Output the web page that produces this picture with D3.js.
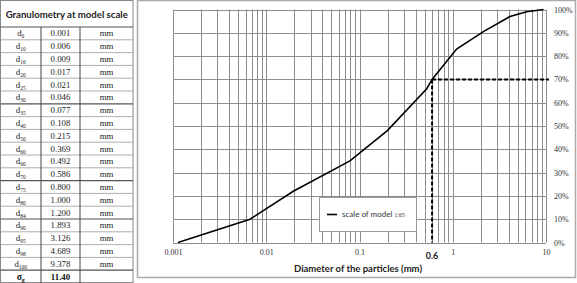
<!DOCTYPE html>
<html><head><meta charset="utf-8">
<script src="https://cdn.jsdelivr.net/npm/d3@7"></script>
<style>body{margin:0;background:#fff}svg{display:block}</style>
</head><body>
<svg id="c" width="577" height="283"></svg>
<script>
// ---- table data ----
const tableTitle = "Granulometry at model scale";
const tableLabels = ["0","10","16","20","25","30","35","40","50","60","60","70","75","80","84","90","95","98","100"];
const tableValues = ["0.001","0.006","0.009","0.017","0.021","0.046","0.077","0.108","0.215","0.369","0.492","0.586","0.800","1.000","1.200","1.893","3.126","4.689","9.378"];
const tableUnit = "mm";
const sigmaValue = "11.40";

// ---- curve data ----
const curveDiam = [0.00113, 0.0067, 0.0195, 0.079, 0.199, 0.526, 0.6, 1.10, 2.13, 4.11, 6.2, 9.4];
const curvePct  = [0, 10, 22, 35, 48, 66, 70, 83, 90.5, 97, 99, 100];
const xTicks = [0.001, 0.01, 0.1, 1, 10];
const xTickLabels = ["0.001","0.01","0.1","1","10"];
const yTicks = [0,10,20,30,40,50,60,70,80,90,100];
const markD = 0.6, markP = 70;
const legendLabel = "scale of model ";
const legendScale = "1:65";
const xTitle = "Diameter of the particles (mm)";

const svg = d3.select("#c");
const serif = "'Liberation Serif','Times New Roman',serif";
const sans = "Lato,'Open Sans',sans-serif";

// ---------- TABLE ----------
const T = svg.append("g");
const tx0 = 0.5, tx1 = 41, tx2 = 80, tx3 = 133;
const rowTop = 27, rowH = 12.8;
const nRows = tableLabels.length + 1;
T.append("rect").attr("x",tx0).attr("y",0.5).attr("width",tx3-tx0).attr("height",282)
 .attr("fill","#fff").attr("stroke","#888");
T.append("text").attr("x",(tx0+tx3)/2).attr("y",18).attr("text-anchor","middle")
 .attr("font-family",sans).attr("font-weight","bold").attr("font-size",9.6).attr("fill","#222").text(tableTitle);
for(let i=0;i<=nRows;i++){
  const y = rowTop + i*rowH;
  const dark = (i===0||i===6||i===12||i===15||i===nRows-1);
  T.append("line").attr("x1",tx0).attr("x2",tx3).attr("y1",y).attr("y2",y)
   .attr("stroke",dark?"#555":"#999").attr("stroke-width",dark?1.2:0.8);
}
[tx1,tx2].forEach(x=>T.append("line").attr("x1",x).attr("x2",x).attr("y1",rowTop).attr("y2",283)
   .attr("stroke","#444").attr("stroke-width",1));
tableLabels.forEach((lab,i)=>{
  const yc = rowTop + i*rowH + rowH/2 + 3;
  const t = T.append("text").attr("x",(tx0+tx1)/2).attr("y",yc).attr("text-anchor","middle")
    .attr("font-family",serif).attr("font-size",8.8).attr("fill","#222");
  t.append("tspan").text("d");
  t.append("tspan").attr("font-size",5.5).attr("dy",2).text(lab);
  T.append("text").attr("x",(tx1+tx2)/2).attr("y",yc).attr("text-anchor","middle")
    .attr("font-family",serif).attr("font-size",8.8).attr("fill","#222").text(tableValues[i]);
  T.append("text").attr("x",(tx2+tx3)/2).attr("y",yc).attr("text-anchor","middle")
    .attr("font-family",serif).attr("font-size",8.8).attr("fill","#222").text(tableUnit);
});
{
  const yc = rowTop + (nRows-1)*rowH + rowH/2 + 3;
  const t = T.append("text").attr("x",(tx0+tx1)/2).attr("y",yc).attr("text-anchor","middle")
    .attr("font-family",serif).attr("font-size",9.5).attr("font-weight","bold").attr("fill","#111");
  t.append("tspan").text("σ");
  t.append("tspan").attr("font-size",6).attr("dy",2).text("g");
  T.append("text").attr("x",(tx1+tx2)/2).attr("y",yc).attr("text-anchor","middle")
    .attr("font-family",serif).attr("font-size",8.8).attr("font-weight","bold").attr("fill","#111").text(sigmaValue);
}

// ---------- CHART ----------
svg.append("rect").attr("x",137.5).attr("y",0.5).attr("width",438).attr("height",277)
  .attr("fill","#fff").attr("stroke","#aaa").attr("stroke-width",1.5);

const x = d3.scaleLog().domain([0.001,10]).range([173,546]);
const y = d3.scaleLinear().domain([0,100]).range([242.5,9.5]);
const G = svg.append("g");

// minor + major vertical grid
const vgrid = [];
for(let e=-3;e<1;e++) for(let m=1;m<=9;m++) vgrid.push(m*Math.pow(10,e));
vgrid.push(10);
G.append("g").selectAll("line").data(vgrid).join("line")
  .attr("x1",d=>Math.round(x(d))+0.5).attr("x2",d=>Math.round(x(d))+0.5)
  .attr("y1",y(100)).attr("y2",y(0)).attr("stroke","#8c8c8c").attr("stroke-width",1);
G.append("g").selectAll("line").data(yTicks).join("line")
  .attr("x1",x(0.001)).attr("x2",x(10)).attr("y1",d=>Math.round(y(d))+0.5).attr("y2",d=>Math.round(y(d))+0.5)
  .attr("stroke","#8c8c8c").attr("stroke-width",1);

// x axis labels
const xAxis = d3.axisBottom(x).tickValues(xTicks).tickFormat((d,i)=>xTickLabels[i]).tickSize(0).tickPadding(7);
const xa = G.append("g").attr("transform",`translate(0,${y(0)})`).call(xAxis);
xa.select(".domain").remove();
xa.selectAll("text").attr("font-family",serif).attr("font-size",8).attr("fill","#333");

// y axis labels (right)
const yAxis = d3.axisRight(y).tickValues(yTicks).tickFormat(d=>d+"%").tickSize(0).tickPadding(8);
const ya = G.append("g").attr("transform",`translate(${x(10)},0)`).call(yAxis);
ya.select(".domain").remove();
ya.selectAll("text").attr("font-family",serif).attr("font-size",8).attr("fill","#333");

// curve
const line = d3.line().x((d,i)=>x(curveDiam[i])).y((d,i)=>y(curvePct[i]));
G.append("path").attr("d",line(curveDiam)).attr("fill","none").attr("stroke","#000").attr("stroke-width",1.6);

// dashed markers
G.append("line").attr("x1",x(markD)).attr("x2",x(10)+3).attr("y1",y(markP)).attr("y2",y(markP))
  .attr("stroke","#000").attr("stroke-width",2).attr("stroke-dasharray","4,2");
G.append("line").attr("x1",x(markD)).attr("x2",x(markD)).attr("y1",y(markP)).attr("y2",y(0))
  .attr("stroke","#000").attr("stroke-width",2).attr("stroke-dasharray","4,2");
G.append("text").attr("x",x(markD)).attr("y",259).attr("text-anchor","middle")
  .attr("font-family",sans).attr("font-weight","bold").attr("font-size",9).attr("fill","#222").text(String(markD));

// legend
const L = G.append("g");
L.append("rect").attr("x",319.5).attr("y",197.5).attr("width",97).attr("height",34)
  .attr("fill","#fff").attr("stroke","#999");
L.append("line").attr("x1",327).attr("x2",337).attr("y1",214.5).attr("y2",214.5).attr("stroke","#000").attr("stroke-width",1.6);
const lt = L.append("text").attr("x",342).attr("y",217).attr("font-family",sans).attr("font-size",8).attr("fill","#333");
lt.append("tspan").text(legendLabel);
lt.append("tspan").attr("font-family",serif).attr("font-size",6).text(legendScale);

// x title
G.append("text").attr("x",358).attr("y",272).attr("text-anchor","middle")
  .attr("font-family",sans).attr("font-weight","bold").attr("font-size",9.5).attr("fill","#222").text(xTitle);
</script>
</body></html>
